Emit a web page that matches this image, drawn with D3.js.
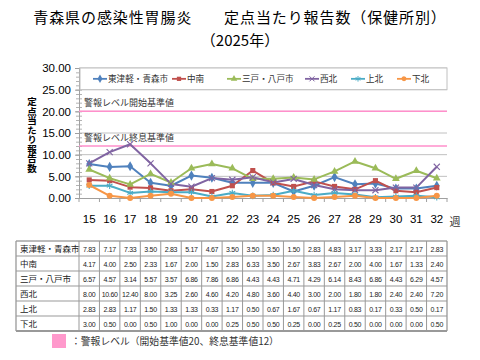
<!DOCTYPE html>
<html><head><meta charset="utf-8">
<script src="https://cdn.jsdelivr.net/npm/d3@7"></script>
<style>body{margin:0;background:#fff}svg{display:block}</style>
</head><body>
<svg id="c" width="480" height="360"></svg>
<script>
const weeks = [15,16,17,18,19,20,21,22,23,24,25,26,27,28,29,30,31,32];
const seriesNames = ["東津軽・青森市","中南","三戸・八戸市","西北","上北","下北"];
const higashiTsugaru = [7.83,7.17,7.33,3.50,2.83,5.17,4.67,3.50,3.50,3.50,1.50,2.83,4.83,3.17,3.33,2.17,2.17,2.83];
const chunan = [4.17,4.00,2.50,2.33,1.67,2.00,1.50,2.83,6.33,3.50,2.67,3.83,2.67,2.00,4.00,1.67,1.33,2.40];
const sannohe = [6.57,4.57,3.14,5.57,3.57,6.86,7.86,6.86,4.43,4.43,4.71,4.29,6.14,8.43,6.86,4.43,6.29,4.57];
const seihoku = [8.00,10.60,12.40,8.00,3.25,2.60,4.60,4.20,4.80,3.60,4.40,3.00,2.00,1.80,1.80,2.40,2.40,7.20];
const kamikita = [2.83,2.83,1.17,1.50,1.33,1.33,0.33,1.17,0.50,0.67,1.67,0.67,1.17,0.83,0.17,0.33,0.50,0.17];
const shimokita = [3.00,0.50,0.00,0.50,1.00,0.00,0.00,0.25,0.50,0.50,0.25,0.00,0.25,0.50,0.00,0.00,0.00,0.50];
const yTicks = [0,5,10,15,20,25,30];
const alertStart = 20, alertEnd = 12;

const allValues = [higashiTsugaru, chunan, sannohe, seihoku, kamikita, shimokita];
const colors = ["#4f81bd","#c0504d","#9bbb59","#8064a2","#4bacc6","#f79646"];
const symbols = [d3.symbolDiamond, d3.symbolSquare, d3.symbolTriangle, d3.symbolX, d3.symbolAsterisk, d3.symbolCircle];
const stroked = [false,false,false,true,true,false];
const symSize = [30,26,26,26,30,28];

const svg = d3.select("#c");
const JP = "'Noto Sans CJK JP','Noto Sans',sans-serif";
const NUM = "'Liberation Sans','Open Sans',sans-serif";

const x = d3.scaleBand().domain(weeks).range([79, 447]);
const y = d3.scaleLinear().domain([0, 30]).range([198, 68]);

// title
svg.append("text").attr("x", 240).attr("y", 23).attr("text-anchor","middle")
  .attr("font-family", JP).attr("font-size", 15).attr("letter-spacing", 0.9).attr("fill","#000")
  .text("青森県の感染性胃腸炎　　定点当たり報告数（保健所別）");
svg.append("text").attr("x", 240).attr("y", 46).attr("text-anchor","middle")
  .attr("font-family", JP).attr("font-size", 15).attr("fill","#000")
  .text("（2025年）");

// gridlines
svg.append("g").selectAll("line").data(yTicks.filter(d=>d>0)).join("line")
  .attr("x1", 79).attr("x2", 447).attr("y1", d=>y(d)).attr("y2", d=>y(d))
  .attr("stroke", "#c0c0c0").attr("stroke-width", 1);

// y axis
const yAxis = d3.axisLeft(y).tickValues(yTicks).tickFormat(d3.format(".2f")).tickSize(4);
const ya = svg.append("g").attr("transform","translate(79,0)").call(yAxis);
ya.select(".domain").attr("stroke","#a0a0a0");
ya.selectAll(".tick line").attr("stroke","#a0a0a0");
ya.selectAll(".tick text").attr("font-family", NUM).attr("font-size", 11.5).attr("fill","#000").attr("dx", -1);
// minor ticks
svg.append("g").selectAll("line").data(d3.range(0,31,1)).join("line")
  .attr("x1", 76).attr("x2", 82).attr("y1", d=>y(d)+0.5).attr("y2", d=>y(d)+0.5)
  .attr("stroke","#a0a0a0").attr("stroke-width",0.8);

// x axis
const xa = svg.append("g").attr("transform","translate(0,198)")
  .call(d3.axisBottom(x).tickSize(0).tickPadding(17));
xa.select(".domain").attr("stroke","#a0a0a0");
xa.selectAll(".tick text").attr("font-family", NUM).attr("font-size", 11.5).attr("fill","#000");
svg.append("g").selectAll("line").data(weeks.concat([null])).join("line")
  .attr("x1", (d,i)=> i<weeks.length ? x(d) : 447).attr("x2", (d,i)=> i<weeks.length ? x(d) : 447)
  .attr("y1", 198).attr("y2", 202).attr("stroke","#a0a0a0");
svg.append("text").attr("x", 455).attr("y", 226).attr("text-anchor","middle")
  .attr("font-family", JP).attr("font-size", 11).attr("fill","#333").text("週");

// y axis title (vertical)
svg.append("text").attr("x", 32).attr("y", 97)
  .attr("style","writing-mode: vertical-rl; text-orientation: upright;")
  .attr("font-family", JP).attr("font-size", 9.5).attr("font-weight","bold").attr("fill","#000")
  .text("定点当たり報告数");

// alert lines
[alertStart, alertEnd].forEach(v => {
  svg.append("line").attr("x1", 79).attr("x2", 447).attr("y1", y(v)).attr("y2", y(v))
    .attr("stroke", "#ff8fcb").attr("stroke-width", 1.5);
});
svg.append("text").attr("x", 84).attr("y", y(alertStart)-5).attr("font-family", JP)
  .attr("font-size", 9).attr("fill","#333").text("警報レベル開始基準値");
svg.append("text").attr("x", 84).attr("y", y(alertEnd)-5).attr("font-family", JP)
  .attr("font-size", 9).attr("fill","#333").text("警報レベル終息基準値");

// legend box
svg.append("rect").attr("x", 80).attr("y", y(30)).attr("width", 367).attr("height", y(25)-y(30))
  .attr("fill","#fff").attr("stroke","#c0c0c0");
const legX = [93, 172, 227, 305, 351, 397];
seriesNames.forEach((n,i)=>{
  const g = svg.append("g").attr("transform", `translate(${legX[i]},${y(27.5)})`);
  g.append("line").attr("x1",0).attr("x2",14).attr("stroke",colors[i]).attr("stroke-width",1.8);
  g.append("path").attr("transform","translate(7,0)").attr("d", d3.symbol(symbols[i], symSize[i]*0.7)())
    .attr("fill", stroked[i] ? "none" : colors[i]).attr("stroke", stroked[i] ? colors[i] : "none").attr("stroke-width",1);
  g.append("text").attr("x", 15).attr("y", 3.2).attr("font-family", JP).attr("font-size", 8.6)
    .attr("fill","#333").text(n);
});

// series
const line = d3.line().x((d,i)=> x(weeks[i]) + x.bandwidth()/2).y(d=>y(d));
allValues.forEach((vals,i)=>{
  svg.append("path").datum(vals).attr("d", line).attr("fill","none")
    .attr("stroke", colors[i]).attr("stroke-width", 2).attr("stroke-linejoin","round");
});
allValues.forEach((vals,i)=>{
  svg.append("g").selectAll("path").data(vals).join("path")
    .attr("transform",(d,j)=>`translate(${x(weeks[j]) + x.bandwidth()/2},${y(d)})`)
    .attr("d", d3.symbol(symbols[i], symSize[i])())
    .attr("fill", stroked[i] ? "none" : colors[i])
    .attr("stroke", stroked[i] ? colors[i] : "none").attr("stroke-width", 1.1);
});

// data table
const tTop = 241, rowH = 15, tLeft = 16;
const tbl = svg.append("g");
seriesNames.forEach((n,r)=>{
  const yy = tTop + r*rowH;
  tbl.append("text").attr("x", tLeft+4).attr("y", yy+11).attr("font-family", JP)
    .attr("font-size", 8.5).attr("fill","#222").text(n);
  allValues[r].forEach((v,c)=>{
    tbl.append("text").attr("x", x(weeks[c]) + x.bandwidth()/2).attr("y", yy+10.5)
      .attr("text-anchor","middle").attr("font-family", NUM).attr("font-size", 7)
      .attr("letter-spacing", -0.3).attr("fill","#222").text(d3.format(".2f")(v));
  });
});
// table grid
d3.range(0, seriesNames.length+1).forEach(r=>{
  tbl.append("line").attr("x1", tLeft).attr("x2", 447).attr("y1", tTop + r*rowH).attr("y2", tTop + r*rowH)
    .attr("stroke", r===0||r===seriesNames.length ? "#777" : "#999").attr("stroke-width", r===seriesNames.length?1.3:1);
});
const vxs = [tLeft].concat(weeks.map(w=>x(w))).concat([447]);
vxs.forEach((vx,k)=>{
  tbl.append("line").attr("x1", vx).attr("x2", vx).attr("y1", tTop).attr("y2", tTop + seriesNames.length*rowH)
    .attr("stroke", "#999").attr("stroke-width", (k===0||k===vxs.length-1)?1.3:1);
});

// bottom legend
svg.append("rect").attr("x", 52).attr("y", 334).attr("width", 14).attr("height", 14).attr("fill", "#ff99cc");
svg.append("text").attr("x", 71).attr("y", 345).attr("font-family", JP).attr("font-size", 9.8)
  .attr("fill","#333").text("：警報レベル（開始基準値20、終息基準値12）");
</script>
</body></html>
